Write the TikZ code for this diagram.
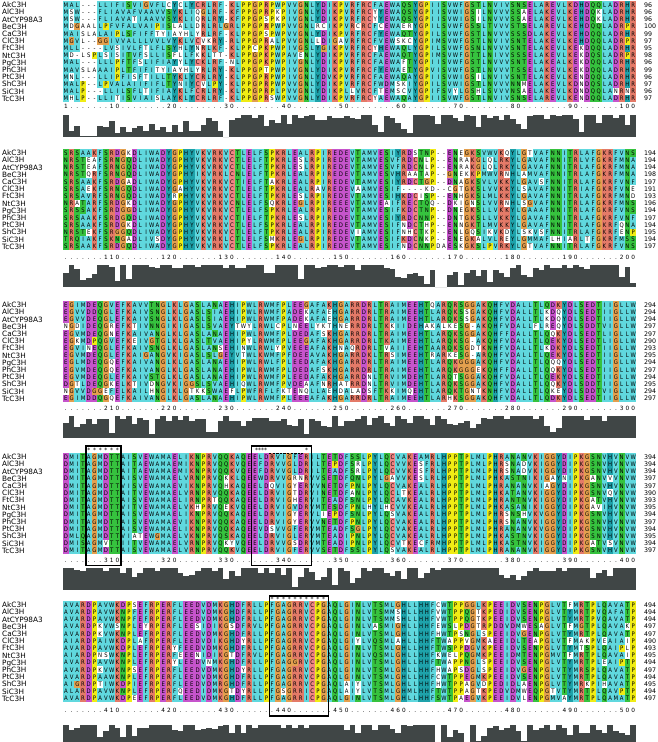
\documentclass[tikz,border=0pt]{standalone}
\usepackage{fontspec}
\setmainfont{DejaVu Sans}
\newfontfamily\resfamily[FakeStretch=0.86]{DejaVu Sans}
\newcommand\qresfont{\resfamily\fontsize{6.2}{7}\selectfont}
\newcommand\qrulfont{\fontsize{5.8}{7}\selectfont}
\definecolor{qcol1}{RGB}{96,216,222}
\definecolor{qcol2}{RGB}{240,132,132}
\definecolor{qcol3}{RGB}{228,122,104}
\definecolor{qcol4}{RGB}{198,84,204}
\definecolor{qcol5}{RGB}{54,194,62}
\definecolor{qcol6}{RGB}{30,162,170}
\definecolor{qcol7}{RGB}{228,160,78}
\definecolor{qcol8}{RGB}{240,236,20}
\definecolor{histgray}{RGB}{64,70,70}

\newcount\qb \newcount\qr \newcount\qrr \newcount\qc \newcount\qn
\newcount\qmax \newcount\qgmax \newcount\qg \newcount\qrun \newcount\qrunstart \newcount\qcolid
\newdimen\qx \newdimen\qy \newdimen\qyt \newdimen\qxa \newdimen\qya \newdimen\qyb \newdimen\qw

\def\qsetgrp#1#2{\expandafter\def\csname qgrp#1\endcsname{#2}}
\qsetgrp A1\qsetgrp I1\qsetgrp L1\qsetgrp M1\qsetgrp F1\qsetgrp W1\qsetgrp V1
\qsetgrp C2\qsetgrp K3\qsetgrp R3\qsetgrp D4\qsetgrp E4
\qsetgrp S5\qsetgrp T5\qsetgrp N5\qsetgrp Q5\qsetgrp H6\qsetgrp Y6
\qsetgrp G7\qsetgrp P8

% ---------- storing the alignment ----------
\def\qend{\qend}
\def\qstore#1#2#3{\qc=0 \edef\qcurb{#1}\edef\qcurr{#2}\qstoreloop#3\qend\qpad}
\def\qstoreloop#1{\ifx#1\qend\else\advance\qc by 1 \expandafter\def\csname qR\qcurb-\qcurr-\the\qc\endcsname{#1}\expandafter\qstoreloop\fi}
\def\qpad{\ifnum\qc<100 \advance\qc by 1 \expandafter\def\csname qR\qcurb-\qcurr-\the\qc\endcsname{-}\expandafter\qpad\fi}

% ---------- column statistics ----------
\def\qstatblock#1{\qb=#1 \qc=0 \qstatcols}
\def\qstatcols{\ifnum\qc<100 \advance\qc by 1 \qstatcol\expandafter\qstatcols\fi}
\def\qzerog{\ifnum\qg<8 \advance\qg by 1 \expandafter\def\csname qN\the\qb-\the\qc-\the\qg\endcsname{0}\expandafter\qzerog\fi}
\def\qmaxg{\ifnum\qg<8 \advance\qg by 1 \ifnum\csname qN\the\qb-\the\qc-\the\qg\endcsname>\qgmax \qgmax=\csname qN\the\qb-\the\qc-\the\qg\endcsname\relax\fi\expandafter\qmaxg\fi}
\def\qidrows{\ifnum\qrr<14 \advance\qrr by 1 \expandafter\ifx\csname qR\the\qb-\the\qrr-\the\qc\endcsname\qch\advance\qn by 1 \fi\expandafter\qidrows\fi}
\def\qstatrow{%
  \edef\qch{\csname qR\the\qb-\the\qr-\the\qc\endcsname}%
  \if-\qch\else
    \edef\qgg{\csname qgrp\qch\endcsname}%
    \expandafter\edef\csname qN\the\qb-\the\qc-\qgg\endcsname{\the\numexpr\csname qN\the\qb-\the\qc-\qgg\endcsname+1\relax}%
    \qn=0 \qrr=0 \qidrows
    \ifnum\qn>\qmax \qmax=\qn\fi
  \fi}
\def\qstatrows{\ifnum\qr<14 \advance\qr by 1 \qstatrow\expandafter\qstatrows\fi}
\def\qstatcol{%
  \qg=0 \qzerog
  \qmax=0 \qr=0 \qstatrows
  \qgmax=0 \qg=0 \qmaxg
  \expandafter\edef\csname qS\the\qb-\the\qc\endcsname{\the\numexpr\qmax+\qgmax\relax}}

% ---------- drawing ----------
\def\qcb#1{\hbox to 5.73pt{\hss#1\hss}}
\def\qdrawblock#1#2{\qb=#1 \qyt=#2pt \qr=0 \qdrawrows}
\def\qdrawrows{\ifnum\qr<14 \advance\qr by 1 \qdrawrow\expandafter\qdrawrows\fi}
\def\qdrawrow{%
  \qy=\dimexpr\qyt-7.2pt*\qr+7.2pt\relax
  \qyb=\dimexpr\qy-3.65pt\relax
  \def\qrowtext{}%
  \qrun=0 \qrunstart=1 \qc=0
  \qrowcells
  \qc=101 \qflushrun
  \qya=\dimexpr\qy-2.2pt\relax
  \pgftext[left,base,at=\pgfqpoint{63pt}{\qya}]{\qresfont\qrowtext}}
\def\qrowcells{\ifnum\qc<100 \advance\qc by 1 \qrowcell\expandafter\qrowcells\fi}
\def\qrowcell{%
  \edef\qch{\csname qR\the\qb-\the\qr-\the\qc\endcsname}%
  \if-\qch
    \qcolid=0
  \else
    \edef\qgg{\csname qgrp\qch\endcsname}%
    \qn=\csname qN\the\qb-\the\qc-\qgg\endcsname\relax
    \ifnum\qgg>6 \qn=99 \fi
    \ifnum\qn>4 \qcolid=\qgg\relax \else \qcolid=0 \fi
  \fi
  \ifnum\qcolid=\qrun\else\qflushrun\qrun=\qcolid\qrunstart=\qc\fi
  \edef\qrowtext{\unexpanded\expandafter{\qrowtext}\noexpand\qcb{\qch}}}
\def\qflushrun{%
  \ifnum\qrun>0
    \pgfsetfillcolor{qcol\the\qrun}%
    \qx=\dimexpr 63pt+5.73pt*\qrunstart-5.73pt\relax
    \qw=\dimexpr 5.73pt*\qc-5.73pt*\qrunstart+0.08pt\relax
    \pgfpathrectangle{\pgfqpoint{\qx}{\qyb}}{\pgfqpoint{\qw}{7.3pt}}%
    \pgfusepath{fill}%
  \fi}

\def\qdrawhist#1#2{\qb=#1 \qyt=#2pt \qc=0 \pgfsetfillcolor{histgray}\qhistcols}
\def\qhistcols{\ifnum\qc<100 \advance\qc by 1 \qhistcol\expandafter\qhistcols\fi}
\def\qhistcol{%
  \edef\qs{\csname qS\the\qb-\the\qc\endcsname}%
  \pgfmathsetmacro\qh{22*(max(\qs-2,0.05)/26)^1.6}%
  \qx=\dimexpr 63pt+5.73pt*\qc-5.73pt\relax
  \pgfpathrectangle{\pgfqpoint{\qx}{\qyt}}{\pgfqpoint{5.76pt}{\qh pt}}%
  \pgfusepath{fill}}

\def\qdrawruler#1#2{\qb=#1 \qyt=#2pt \qc=0 \def\qrowtext{}\qrulercols
  \pgftext[left,base,at=\pgfqpoint{63pt}{\qyt}]{\qrulfont\qrowtext}}
\def\qrulercols{\ifnum\qc<100 \advance\qc by 1 \qrulercol\expandafter\qrulercols\fi}
\def\qrulercol{%
  \qn=\numexpr(\qb-1)*100+\qc\relax
  \qg=\numexpr\qc-((\qc-5)/10)*10\relax
  \ifnum\qg=0 \qmax=\qn \else \qmax=\numexpr\qn-\qg+10\relax \fi
  \ifnum\qmax<100 \qgmax=2 \else \qgmax=3 \fi
  \qrr=\numexpr\qmax-\qn\relax
  \ifnum\qn=1 \def\qrch{1}%
  \else
    \ifnum\qrr<\qgmax
      \ifcase\qrr \def\qrch{0}%
      \or \edef\qrch{\the\numexpr\qmax/10-((\qmax/10-5)/10)*10\relax}%
      \or \edef\qrch{\the\numexpr(\qmax-50)/100\relax}%
      \fi
    \else
      \def\qrch{.}%
    \fi
  \fi
  \edef\qrowtext{\unexpanded\expandafter{\qrowtext}\noexpand\qcb{\qrch}}}

% ---------- alignment data ----------
% block 1
\qstore{1}{1}{MAL---LLIF ISVIGVFLCY CLYCRLRF-K LPPGPRPWPV VGNLYDIKPV RFRCFAEWAQ SYGPIISVWF GSTLNVIVSN SELAREVLKD HDQQLADRHR}
\qstore{1}{2}{MSW---FLIA VAFVAAVVSY KLIQGLRF-K FPPGPRPKPI VGNLYDIKPV RFRCYYEWAQ SYGPIISVWI GSILNVVVSS AELAKEVLKE HDQKLADRHR}
\qstore{1}{3}{MSW---FLIA VATIAAVVSY KLIQRLRY-K FPPGPSPKPI VGNLYDIKPV RFRCYYEWAQ SYGPIISVWI GSILNVVVSS AELAKEVLKE HDQKLADRHR}
\qstore{1}{4}{MDGAALLPFV FALVAIPISL ALLDRLRLGR LPPGPRPWPV VGNLRCIKPV RCRCFCEWAE RYGPILSVWF GSSLTVVVST SELAREVLKE HDQQLADRPR}
\qstore{1}{5}{MAISLALAIP LSFIFFTYIA YHLYRLRF-K LPPGPSPWPV VGNLYDIKPV RFRCFYEWAQ TYGPILSVWF GSTLNVVVSS SDLAKEVLKE HDQQLADRHR}
\qstore{1}{6}{MGVL--GGIV VALLLVVLVY KLVCVKRY-R LPPGPRALPV VGNLLDIGAV RFRCFVEWSK CYGPIMSVWF GSTLNVIVSN TELAKEVLKE HDQQLADRPR}
\qstore{1}{7}{MLL----LVS IVLFTLFLSY HLYNRLKF-K LPPCPKPWPI VGSLYGIKPV RFRCYHEWAQ LYGPILSVWF GSNLNVVVSN TELAKEVLKE KDQQLADRHR}
\qstore{1}{8}{MD-LSPLSIS ITVFSLLISF LLFKKLTT-K LPPGPKPWPA VENLYDIKPV RFRCFAEWAQ TYGPIMSVWF GTTLNIVVSS SELAKEVLKE KDQSLADRPR}
\qstore{1}{9}{MAL---LLLP FTFSLIFIAY YLYCKLRF-N LPPGPKPWPI VGNLYDIKPV RFRCFAEWAF TYGPIISVWF GSTLNVVVSN TELAKEALKE KDQQLADRHR}
\qstore{1}{10}{MAVSLAAAIP LTFIFITYIA YHLYRLRY-K LPPGPTPWPI VGNLYDIKPV RFRCFYEWAE TYGPVISVWF GSTLNVVVTS SELAKEVLKE KDQQLADRHR}
\qstore{1}{11}{MNL---LLIP FISFTILLTY KLYCRLRY-K LPPGPRPWPI VGNLYDVKPV RFRCFAEWAQ AYGPIISVWI GSILNVIVSN TELAKEVLKE NDQQLADRHR}
\qstore{1}{12}{MALP--LPVA LAIIFIFLTY NIYCVLPY-K LPPGPRPWPV VGNLYDIKPV RFRCFWDMSK IYGPILSVWI GSTLNVVVNN MELAKEVLKD NDQSLADRHR}
\qstore{1}{13}{MALP---LLI LSFLTIFIAY KLFCRLRY-K LPPGPRPLPV VGNLYDIKPL LVRCFTEMSC VYGPIFSVYL GSHLSVVVNS AELAKEVLKD NDQQLANRNR}
\qstore{1}{14}{MHLP--LLIT ISVIAISLAY KLYCRLRF-K LPPGPRSWPV VGNLYDIKPV RFRCYAEWAQ AYGPIISVWF GSTLNVIVSN SELAREVLKE NDQQLADRHR}
% block 2
\qstore{2}{1}{SRSAAKFSRD GKDLIWADYG PHYVKVRKVC TLELFSPKRL EALRPIREDE VTAMVESIYR DSTNP--ENE GKSVWVKQYL GTVAFNNITR LAFGKRFVNS}
\qstore{2}{2}{NRSTEAFSRN GQDLIWADYG PHYVKVRKVC TLELFTPKRL ESLRPIREDE VTAMVESVFR DCNLP--ENR AKGLQLRKYL GAVAFNNITR LVFGKRFMNA}
\qstore{2}{3}{NRSTEAFSRN GQDLIWADYG PHYVKVRKVC TLELFTPKRL ESLRPIREDE VTAMVESVFR DCNLP--ENR AKGLQLRKYL GAVAFNNITR LAFGKRFMNA}
\qstore{2}{4}{NRSTQRFSRN GQDLIWADYG PHYIKVRKLC NLELFTPKRL EALRPIREDE VTAMVESVHR AATAP--GNE KKPMWVRNHL AMVAFNNITR LAFGKRFMNA}
\qstore{2}{5}{SRSAAKFSRD GADLIWADYG PHYVKVRKVC TIELFTAKRL EALRPIREDE VTAMVESIYR DCTGP--DNA GKSVLVKKYL GAVSFNNITR LAFGKRFVNF}
\qstore{2}{6}{SRSAEKFSRN GQDLIWADYG AHYVKVRKVC TLELFTPKRL EALRAVREDE VAAMVESIF- ---KD--CGT GKSLVVKKYL SAVAFNNITR IAFGKRFVNE}
\qstore{2}{7}{SRSAVRFSRN GQDLIWADYR PHYVKVRKVC TLELFTPKRL ESLRPIREDE VTAMVESIHK DCISP--ENH GKSLMLKKYL GAVAFNNITR LAFGKRFMND}
\qstore{2}{8}{NRATARFSRD GKDLIWADYG PHYVKVRKVC NLELFSQKRL EGLRPIREEE VTAMVEAIFR ECTQQ--DKI GNSLVVRNHL SGVAFNNITR LAFGKRFMNS}
\qstore{2}{9}{SRSSAKFSRD GGDLIWADYG PHYVKVRKVC TLELFSPKRL EALRPIREDE VTAMVESIFK DCTNP--DNE GKSLLVKKYL GAAAFNNITR LAFGKRFVNS}
\qstore{2}{10}{SRSAAKFSRD GQDLIWADYG PHYVKVRKVC TIELFTPKRL ESLRPIREDE VTAMVESIYR DCNNP--DNT GKSLLVKKYL GAVAFNNITR LAFGKRFVNF}
\qstore{2}{11}{SRSAAKFSRD GKDLIWADYG PHYVKVRKVC TLELFSPKRL EALRPIREDE VTAMVESIFN DCTHP--ENN GKTLMVKKYL GAVAFNNITR LAFGKRFQNA}
\qstore{2}{12}{NRSTEKFSRG GQDLIWADYG PHYVKVRKVC TLELFTPKRL EALRPIREDE VIAMVESIFN HCTKP--ENL GQSIKVKDYL SKVSFNNITR LAFGKRFENP}
\qstore{2}{13}{TRQIAKFSKN GADLIVSDYG PHYVKVRKLC TLELFSMKRL EGLRPIREDE VTAMVESIFK DCNKP--ENE GKALVLREYL GMMAFLHIAR LTFGKRFMSS}
\qstore{2}{14}{SRSAAKFSRD GQDLIWADYG PHYVKVRKVC TLELFSPKRL EALRPIREDE VTAMVESIFN DCNNPDAESK GKSLPVRKYL GTVAFNNITR LAFGKRFVNS}
% block 3
\qstore{3}{1}{EGIMDEQGVE FKAVVTNGLK LGASLANAEH IPWLRWMFPL EEGAFAKHGA RRDRLTRAIM EEHTQARQRS GGAKQHFVDA LLTLQDKYDL SEDTIIGLLW}
\qstore{3}{2}{EGVVDDQGLE FKAIVSNGLK LGASLSIAEH IPWLRWMFPA DEKAFAEHGA RRDRLTRAIM EEHTLARQKS SGAKQHFVDA LLTLKDQYDL SEDTIIGLLW}
\qstore{3}{3}{EGVVDEQGLE FKAIVSNGLK LGASLSIAEH IPWLRWMFPA DEKAFAEHGA RRDRLTRAIM EEHTLARQKS SGAKQHFVDA LLTLKDQYDL SEDTIIGLLW}
\qstore{3}{4}{NGDIDEQGRE FKTIVNNGIK IGASLSVAEY TWYLRWLCPL NEELYKTHNE RRDRLTKKII DEHAKALKES G-AKQHFVDA LLFLREQYDL SDDTVIGLLW}
\qstore{3}{5}{EGVMDEQGNE FKAIVANGLK LGASLANAEH IPWLRWMFPL DEDAFSKHGA RRDRLTRAIM EEHTLARQKS GGAKQHFFDA LLTLQQKYDL SEDTLIGLLW}
\qstore{3}{6}{EGKMDPQGVE FKEIVGTGLK LGASLTVAEH IPYLRWMFPL EEGAFAKHGA RRDRLTKAIM EEHTLARQKS G-AKQHFVDA LLTLQEKYDL SEDTLIGLLW}
\qstore{3}{7}{EGVINEQGLE FKAIVSNGLK LGASLANSEH INWLRWLYPV EEEAFAKHNA QRDRLTVAII EEHTAARQKS GDTKNHFVDA LLTLKDKYDL SEDTIIGLLW}
\qstore{3}{8}{EGVMDEQGLE FKAIGANGVK IGASLSLGEY VTWLKWMFPF DEEAVAKHGA RRDKLTRSIM EEHTRARKES G-ARQHFVDA LLTLQEKYDL SEDTIIGLLW}
\qstore{3}{9}{EGLMDEQGQE FKAIVANGLK LGASLANAEH IPWLRWLFPL EEDAFAKHGA RRDRLTRAIM EEHTLARQKG GGAKQHFVDA LLTLQQQYDL SEDTIIGLLW}
\qstore{3}{10}{EGVMDEQGQE FKAIVANGLK LGASLANAEH IPWLRWMFPL DEDAFSKHGA RRDRLTRAIM EEHTLARQKG GGEKQHFFDA LLTLQQKYDL SEDTIIGLLW}
\qstore{3}{11}{EGVMDEQGLE FKAIVSTGLK LGASLANAEH IPWLRWMFPL EEDAFAKHGA RRDNLTRVIM DEHTLARQTS GGAKQHFVDA LLTLQEKYDL SEDTIIGLLW}
\qstore{3}{12}{DGTLDEQGKE LKTIVDNGVK IGGSLSVAEH IQWLRWMFPV DEAAFNRHAT RRDNLTRVIM DEHTLARQKS GGAKQHFVDA LLTLQQKYDL SDDTIIGLLW}
\qstore{3}{13}{NGVVDGGEFE LKAILHNGIK LGTKKSWAEF LPWFRFLFKT ENQLLAEHDA LADSFTKKIM QEHTLARQKT GNTKNHFVDA LLTLQKEYDL SDDTVIGLLW}
\qstore{3}{14}{EGIMDDQGQE FKAIVANGLK LGASLANAEH IPWLRWMFPL EEEAFAKHGA RRDRLTRAIM EEHTLARHKS GGAKQHFVDA LLTLQDKYDL SEDTIIGLLW}
% block 4
\qstore{4}{1}{DMITAGMDTT AISVEWAMAE LIKNPRVQQK AQEELDRVIG FERILTETDF SSLPYLQCVA KEAMRLHPPT PLMLPHRANA NVKIGGYDIP KGSNVHVNVW}
\qstore{4}{2}{DMITAGMDTT AITAEWAMAE MIKNPRVQQK VQEEFDRVVG LDRILTEPDF SRLPYLQCVV KESFRLHPPT PLMLPHRSNA DVKIGGYDIP KGSNVHVNVW}
\qstore{4}{3}{DMITAGMDTT AITAEWAMAE MIKNPRVQQK VQEEFDRVVG LDRILTEADF SRLPYLQCVV KESFRLHPPT PLMLPHRSNA DVKIGGYDIP KGSNVHVNVW}
\qstore{4}{4}{DMITAGMDTT AISVEWAMAE LVRNPRVQKK LQEEWDRVVG RNRVVSETDF QNLPYLGAVV KESLRLHPPT PLMLPHKAST NIKIGAYNIP KGANVVVNVW}
\qstore{4}{5}{DMITAGMDTT VISVEWAMAE VIKNPRVQHK AQEELDQVIG YERVVNETDF PNLPYLQCVA KEALRLHPPT PLMLPHRANA NVKIAGYDIP KGSNVHVNVW}
\qstore{4}{6}{DMITAGMDTT AITVEWAMAE LVRNPRVQQK AQEELDRVIG TDRVINETDF ANLPYLQCLT KEALRLHPPT PLMLPHKATA NVKIGGYDIP KGSNVQVNVW}
\qstore{4}{7}{DMITAGMDTT AISVEWAMAE LIRNPRTQQK AQEELDRVIG HERVITEADF SNLPYLQCAV KEALRLHPPT PLMLPHRANT NVKIGGYDIP KGATVHVNVW}
\qstore{4}{8}{DMITAGMDTT VITVEWAMAE LVKHPRVQEK VQEELDRVIG VDRVMTESDF PNLHYLHCVV KEALRLHPPT PLMLPHKASA NIKIGGYDIP KGAVIHVNVW}
\qstore{4}{9}{DMITAGMDTT AISVEWAMAE LIKNPRVQQK AQEELDRVIG YERVLIEPDF SNLPYLQSVA KEALRLHPPT PLMLPHRSNS HVKVGGYDIP KGSNVHVNVW}
\qstore{4}{10}{DMITAGMDTT AISVEWAMAE VIKNPRVQQK AQEELDRVIG YERVVNETDF PNLPYLQCVA KEALRLHPPT PLMLPHRSNA NVKIGGYDIP KGSNVHVNVW}
\qstore{4}{11}{DMITAGMDTT AISVEWAMAE LIKNPRVQQK AQEEVDSVVG FERVMTEADF SGLPYLQCVA KEALRLHPPT PLMLPHRANA NVKVGGYDIP KGSNVHVNVW}
\qstore{4}{12}{DMLQAGMDTT VIATEWGMAE LVKNPRVQSK AQEELDRVIG LERVMTEADI PNLPYLQCVA KEALRLHPPT PLMLPHKAST NVKIGGYDIP KGSNVHVNVW}
\qstore{4}{13}{DMISAGMVTT IITVEWAMAE LVRNPRVQKY VQEELDRVVG SDRVMTEADI PNLPYLQCVT KECFRMHPPT PLMLPHKAST NVKIGGYDIP KGATVSVNVW}
\qstore{4}{14}{DMITAGMDTT AISVEWAMAE LVRNPRVQQK VQEELDRVIG FERVVSETDF SSLPYLQSVA KEALRLHPPT PLMLPHRANA NVKIGGYDIP KGSNVHVNVW}
% block 5
\qstore{5}{1}{AVARDPAVWK DPSEFRPERF LEEDVDMKGH DFRLLPFGAG RRVCPGAQLG INLVTSMLGH LLHHFCWTPP GGLKPEEIDV SENPGLVTFM RTPLQAVATP}
\qstore{5}{2}{AVARDPAVWK NPFEFRPERF LEEDVDMKGH DFRLLPFGAG RRVCPGAQLG INLVTSMMSH LLHHFVWTPP QGTKPEDIDV SENPGLVTYM RTPVQAFATP}
\qstore{5}{3}{AVARDPAVWK NPFEFRPERF LEEDVDMKGH DFRLLPFGAG RRVCPGAQLG INLVTSMMSH LLHHFVWTPP QGTKPEEIDV SENPGLVTYM RTPVQAVATP}
\qstore{5}{4}{AVARDPKVWS NPLEYRPERF LEESIDIKGS DFRVLPFGAG RRVCPGAQLG INLVASMIGH LLHHFEWSLP DGTRPDDVDM WESAGLVTFM GTPLQAVAKP}
\qstore{5}{5}{AVARDPKVWK NPLEFRPERF LEEDVDMKGH DFRLLPFGAG RRVCPGAQLG INLVTSMLGH LLHHFHWTPS NGLSPEEIDV GENPGLVTYM RTPLQAVATP}
\qstore{5}{6}{AIARDPAIWK DPLAFRPERF LEEDVDIKGH DYRLLPFGAG RRVCPGAQLG IYLVQSMLAH LLHHFTWAPP VGMKAEEIDL TEAPGLVTFM AKPVEAIAIP}
\qstore{5}{7}{AVARDPAVWK DPLEFRPERY FEEDVDMKGH DFRLLPFGAG RRVCPGAQLG INLVTSMLGH LLHHFTWSPP DGVKPEEIDV SENPGLVTYM TSPLQAIPLP}
\qstore{5}{8}{AIARDPNSWK NPLEFRPERF EEENIDIKGT DFRVLPFGAG RRVCPGAQLG INLVQSMLGH LLHHFKWELP QGMKPEEIDM TENPGMVTFM RTPLQAVAIP}
\qstore{5}{9}{AVARDPAVWK NPLEFRPERY LEEDVNMKGH DFRLLPFGAG GRVCPGAQLG INLVTSMLGH LLHHFTWAPP NGLSPEEIDV SENPGLVTYM RTPLEAIPTP}
\qstore{5}{10}{AVARDPKVWK NPSEFRPERF LEEDVDMKGH DYRLLPFGAG RRVCPGAQLG INLVTSMLGH LLHHFHWAPS DGLSPEEIDV GENPGLVTYM RSPLQAVATP}
\qstore{5}{11}{AVARDPAAWK NPLEFRPERF LEEDVDMKGH DFRLLPFGAG RRVCPGAQLG INLVTSMLGH LLHHFCWTPP EGMKPEEIDV SENPGLVTYM RTPLQAVATP}
\qstore{5}{12}{AIGRDPTIWK DPIEFRPERF LEEDVDMRGH DFRLLPFGAG RRVCPGAQLA IYLVTSMLGH LLHHFHWTPP AGVDPEDIDL AENPGLVTYM RKPIHAVATP}
\qstore{5}{13}{ALARDPAVWK NPLEFRPERF QEEDIDMKGT DYRLLPFGSG RRICPGAQLA IYLVTSMLGH MLHHFTWTPP AGTKPEDVDM WEQPGTVTYM RTPLQAVPTP}
\qstore{5}{14}{AVARDPAVWK DPEEFRPERF LEEDVDMKGH DFRLLPFGAG RRICPGAQLG INLVTSMLGH LLHHFSWTPA EGVKPEEIDV LENPGMVAYM RTPLQAMATP}

\qstatblock1 \qstatblock2 \qstatblock3 \qstatblock4 \qstatblock5

\begin{document}
\begin{tikzpicture}[x=1pt,y=-1pt,
  namestyle/.style={anchor=base west,inner sep=0pt,font=\fontsize{7.3}{8}\selectfont},
  numstyle/.style={anchor=base west,inner sep=0pt,font=\fontsize{6.3}{7}\selectfont},
  starstyle/.style={inner sep=0pt,font=\fontsize{6}{6}\selectfont},
  boxstyle/.style={draw=black,line width=1.4pt}]
\useasboundingbox (0,0) rectangle (658,742);
\clip (0,0) rectangle (658,742);
% residue cells
\qdrawblock{1}{-5}
\qdrawblock{2}{-153}
\qdrawblock{3}{-305}
\qdrawblock{4}{-457}
\qdrawblock{5}{-605}
% rulers
\qdrawruler{1}{-108.7}
\qdrawruler{2}{-259.5}
\qdrawruler{3}{-410.3}
\qdrawruler{4}{-562.3}
\qdrawruler{5}{-712}
% conservation histograms
\qdrawhist{1}{-137}
\qdrawhist{2}{-287.3}
\qdrawhist{3}{-438.3}
\qdrawhist{4}{-590.3}
\qdrawhist{5}{-747}
% sequence names
\foreach \yy [count=\k] in {5,153,305,457,605}{
  \foreach \nm [count=\i] in {AkC3H,AlC3H,AtCYP98A3,BeC3H,CaC3H,ClC3H,FtC3H,NtC3H,PgC3H,PhC3H,PtC3H,ShC3H,SiC3H,TcC3H}
    \node[namestyle] (name-\k-\i) at (2,{\yy+7.2*(\i-1)+2.6}) {\nm};
}
% residue counts
\foreach \v [count=\i] in {96,96,96,100,99,97,95,98,96,99,96,97,96,97}
  \node[numstyle] (num-1-\i) at (644,{5+7.2*(\i-1)+2.2}) {\v};
\foreach \v [count=\i] in {194,194,194,198,197,191,193,196,194,197,194,195,194,197}
  \node[numstyle] (num-2-\i) at (644,{153+7.2*(\i-1)+2.2}) {\v};
\foreach \v [count=\i] in {294,294,294,297,297,290,293,295,294,297,294,295,294,297}
  \node[numstyle] (num-3-\i) at (644,{305+7.2*(\i-1)+2.2}) {\v};
\foreach \v [count=\i] in {394,394,394,397,397,390,393,395,394,397,394,395,394,397}
  \node[numstyle] (num-4-\i) at (644,{457+7.2*(\i-1)+2.2}) {\v};
\foreach \v [count=\i] in {494,494,494,497,497,490,493,495,494,497,494,495,494,497}
  \node[numstyle] (num-5-\i) at (644,{605+7.2*(\i-1)+2.2}) {\v};
% motif boxes
\draw[boxstyle] (86,446) rectangle (121,565.3);
\draw[boxstyle] (251.7,446) rectangle (311.5,565.3);
\draw[boxstyle] (269.2,595.8) rectangle (328.5,716);
% asterisk marks
\foreach \k in {0,...,5}
  \node[starstyle] (staraa-\k) at ({88.8+5.73*\k},450.6) {*};
\node[starstyle] (starbb) at (261,450.6) {****};
\draw[line width=0.6pt,dash pattern=on 2.4pt off 1.2pt] (269,453.6) -- (303,453.6);
\node[starstyle] (starbc) at (306.5,450.6) {*};
\foreach \k in {0,...,9}
  \node[starstyle] (starcc-\k) at ({272.1+5.73*\k},599.2) {*};
\end{tikzpicture}
\end{document}
